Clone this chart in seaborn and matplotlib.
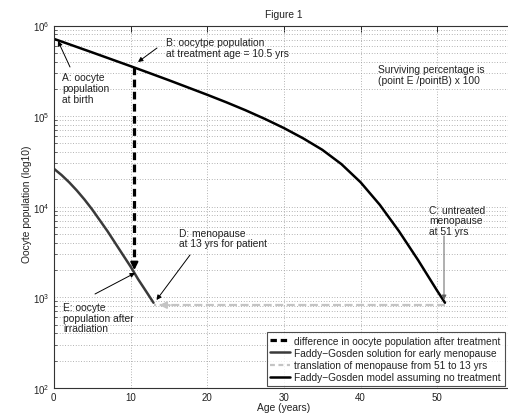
import numpy as np
import pandas as pd
import matplotlib
matplotlib.use("Agg")
import matplotlib.pyplot as plt
import seaborn as sns
from matplotlib.lines import Line2D
from matplotlib.ticker import LogLocator, NullFormatter, MultipleLocator

# ---- data ----
age_main = [0, 2.5, 5, 7.5, 10, 12.5, 15, 17.5, 20, 22.5, 25, 27.5, 30, 32.5,
            35, 37.5, 40, 42.5, 45, 47.5, 50, 51]
pop_main = [713000, 600000, 505000, 424000, 356000, 298000, 249000, 207000,
            172000, 142000, 116000, 93300, 73800, 56900, 42500, 29500, 18600,
            10500, 5370, 2570, 1175, 871]
age_early = [0, 1, 2, 3, 4, 5, 6, 7, 8, 9, 10, 10.5, 11, 12, 13]
pop_early = [26300, 22400, 18600, 15100, 12000, 9330, 7080, 5370, 3980, 2950,
             2190, 1860, 1580, 1175, 871]
treat_age = 10.5
pop_b = 344000
pop_e = 1860
meno_ages = [51, 13]
meno_level = [820, 820]
legend_labels = ["difference in oocyte population after treatment",
                 "Faddy\u2212Gosden solution for early menopause",
                 "translation of menopause from 51 to 13 yrs",
                 "Faddy\u2212Gosden model assuming no treatment"]

sns.set_style("white")
plt.rcParams['font.family'] = ['Liberation Sans', 'DejaVu Sans']
plt.rcParams['mathtext.default'] = 'regular'

W, H = 508, 414
fig = plt.figure(figsize=(W / 100, H / 100), dpi=100)
X0, X60 = 53.8, 53.8 + 60 * 7.67
Y6, Y2 = 26.5, 388.9
ax = fig.add_axes([X0 / W, 1 - Y2 / H, (X60 - X0) / W, (Y2 - Y6) / H])

def px(x, y):
    """figure pixel (from top-left) -> data coords"""
    return (x - X0) / 7.67, 10 ** (2 + (Y2 - y) / ((Y2 - Y6) / 4))

ax.set_yscale('log')
ax.set_xlim(0, 60)
ax.set_ylim(1e2, 1e6)

# grid
ax.xaxis.set_major_locator(MultipleLocator(10))
ax.yaxis.set_major_locator(LogLocator(base=10, numticks=10))
ax.yaxis.set_minor_locator(LogLocator(base=10, subs=np.arange(2, 10), numticks=20))
ax.yaxis.set_minor_formatter(NullFormatter())
gkw = dict(color='#9a9a9a', linestyle=(0, (1, 2.2)), linewidth=0.6)
ax.grid(True, which='major', axis='both', **gkw)
ax.grid(True, which='minor', axis='y', **gkw)
ax.set_axisbelow(True)

df_main = pd.DataFrame({'age': age_main, 'pop': pop_main})
df_early = pd.DataFrame({'age': age_early, 'pop': pop_early})
df_diff = pd.DataFrame({'age': [treat_age, treat_age], 'pop': [pop_b, pop_e * 1.3]})
df_meno = pd.DataFrame({'age': meno_ages, 'pop': meno_level})

sns.lineplot(data=df_meno, x='age', y='pop', ax=ax, color='#c4c4c4', lw=1.6,
             sort=False, estimator=None)
ax.lines[-1].set_dashes((3.6, 1.6))
sns.lineplot(data=df_main, x='age', y='pop', ax=ax, color='black', lw=1.8,
             sort=False, estimator=None)
sns.lineplot(data=df_early, x='age', y='pop', ax=ax, color='#3a3a3a', lw=1.8,
             sort=False, estimator=None)
sns.lineplot(data=df_diff, x='age', y='pop', ax=ax, color='black', lw=2.3,
             sort=False, estimator=None)
ax.lines[-1].set_dashes((2.4, 1.4))

# arrowheads on dashed lines
ax.annotate('', xy=(treat_age, pop_e), xytext=(treat_age, pop_e * 1.35),
            arrowprops=dict(arrowstyle='-|>', color='black', lw=1.5, mutation_scale=11))
ax.annotate('', xy=(13.4, meno_level[1]), xytext=(15.5, meno_level[1]),
            arrowprops=dict(arrowstyle='-|>', color='#c4c4c4', lw=1.4, mutation_scale=10))

ax.set_xlabel('')
ax.set_ylabel('')

fs = 7.35
tkw = dict(fontsize=fs, color='#222222', linespacing=1.12, va='center', ha='left')

def note(text, tx, ty, tail=None, head=None, color='black'):
    ax.text(*px(tx, ty), text, **tkw)
    if tail is not None:
        ax.annotate('', xy=px(*head), xytext=px(*tail),
                    arrowprops=dict(arrowstyle='-|>', color=color, lw=0.7,
                                    mutation_scale=7, shrinkA=0, shrinkB=0))

note('A: oocyte\npopulation\nat birth', 62, 89, (70, 68), (58, 42))
note('B: oocytpe population\nat treatment age = 10.5 yrs', 165.5, 48.5, (157, 49), (138, 63))
note('Surviving percentage is\n(point E /pointB) x 100', 377.5, 75.5)
note('C: untreated\nmenopause\nat 51 yrs', 429, 221.5, (444, 237), (444, 301), color='#606060')
note('D: menopause\nat 13 yrs for patient', 179, 239, (190, 256), (156.5, 301))
note('E: oocyte\npopulation after\nirradiation', 63, 318.5, (95, 295), (135, 274))

# ticks
ax.tick_params(axis='both', which='major', direction='in', length=4, width=0.7,
               top=True, right=True, labelsize=7.0, colors='#222222', pad=3)
ax.tick_params(axis='y', which='minor', direction='in', length=2, width=0.5,
               left=True, right=True)
for s in ax.spines.values():
    s.set_color('#333333')
    s.set_linewidth(0.8)

fig.text(283.5 / W, 1 - 14.5 / H, 'Figure 1', fontsize=fs, ha='center', va='center', color='#222222')
fig.text(284 / W, 1 - 408 / H, 'Age (years)', fontsize=fs, ha='center', va='center', color='#222222')
fig.text(27.5 / W, 1 - 204 / H, 'Oocyte population (log10)', fontsize=fs, ha='center',
         va='center', rotation=90, color='#222222')

handles = [Line2D([], [], color='black', lw=2.3, dashes=(2.0, 1.2)),
           Line2D([], [], color='#3a3a3a', lw=1.8),
           Line2D([], [], color='#c4c4c4', lw=1.6, dashes=(2.2, 1.6)),
           Line2D([], [], color='black', lw=1.8)]
leg = ax.legend(handles, legend_labels, loc='upper left',
                bbox_to_anchor=((266.5 - X0) / (X60 - X0), (Y2 - 333) / (Y2 - Y6)),
                fontsize=7.25, frameon=True, fancybox=False, handlelength=2.0,
                handletextpad=0.4, borderpad=0.38, labelspacing=0.21, borderaxespad=0)
leg.get_frame().set_edgecolor('#222222')
leg.get_frame().set_linewidth(0.8)
for t in leg.get_texts():
    t.set_color('#222222')

fig.savefig('out.png', dpi=100)
